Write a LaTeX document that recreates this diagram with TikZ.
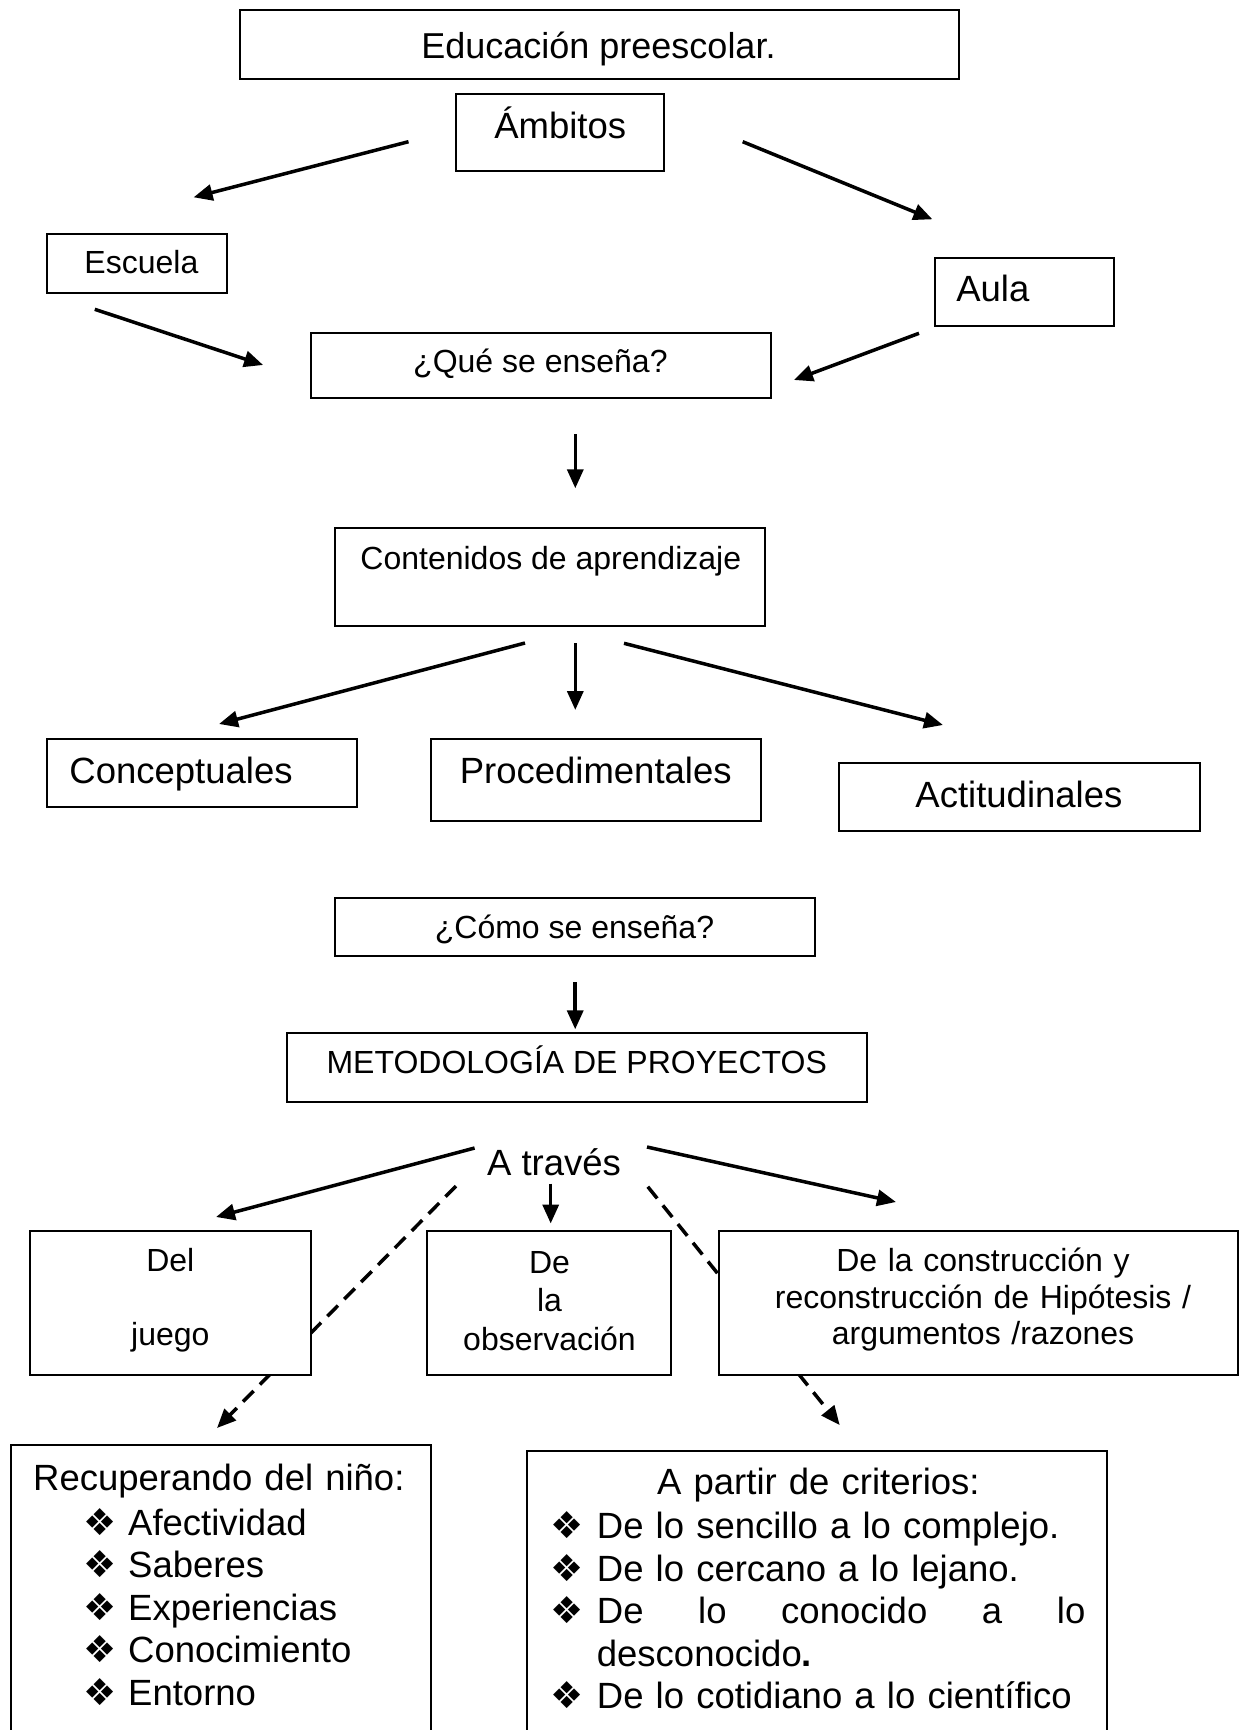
\documentclass[tikz,border=0pt]{standalone}
\usepackage{fontspec}
\setmainfont{Liberation Sans}
\newfontfamily\dejavu{DejaVu Sans}
\usetikzlibrary{arrows.meta,backgrounds}

\newcommand{\rombo}[1][46pt]{\makebox[#1][l]{\dejavu\fontsize{37}{37}\selectfont ❖}}

\tikzset{
  box/.style={draw, line width=2pt, fill=white, inner sep=0pt},
  t32/.style={font=\fontsize{32}{37}\selectfont, inner sep=0pt, anchor=base},
  t37/.style={font=\fontsize{36.5}{42.5}\selectfont, inner sep=0pt, anchor=base},
  arr/.style={line width=3.5pt, -{Triangle[length=19pt,width=16pt]}},
  darr/.style={arr, dash pattern=on 15pt off 9pt}
}

\begin{document}
\begin{tikzpicture}[x=1pt,y=-1pt]
\useasboundingbox (0,0) rectangle (1239,1730);

% cajas
\node[box, minimum width=719, minimum height=69] (educ) at (599,44.5) {};
\node[box, minimum width=208.5, minimum height=77.6] (ambitos) at (560.2,132.5) {};
\node[box, minimum width=179.4, minimum height=59] (escuela) at (137.1,263.2) {};
\node[box, minimum width=179.3, minimum height=68.3] (aula) at (1024.4,291.8) {};
\node[box, minimum width=460, minimum height=65] (que) at (540.5,365.8) {};
\node[box, minimum width=430.3, minimum height=98.3] (cont) at (550.2,576.9) {};
\node[box, minimum width=309.6, minimum height=68.3] (concep) at (202.2,773.2) {};
\node[box, minimum width=330.4, minimum height=81.7] (proced) at (595.8,779.9) {};
\node[box, minimum width=360.5, minimum height=68.3] (actit) at (1019.3,796.9) {};
\node[box, minimum width=480.4, minimum height=57.7] (como) at (575.2,927.2) {};
\node[box, minimum width=580, minimum height=69] (metod) at (576.8,1067.8) {};
\node[box, minimum width=280.5, minimum height=144] (del) at (170.3,1303.4) {};
\node[box, minimum width=244.2, minimum height=144] (obs) at (548.9,1303.4) {};
\node[box, minimum width=519.2, minimum height=144] (constr) at (978.4,1303.4) {};
\node[box, minimum width=420.4, minimum height=315] (recup) at (221.2,1602.5) {};
\node[box, minimum width=580, minimum height=309.4] (partir) at (817,1605.3) {};

% textos
\node[t37, font=\fontsize{36}{40}\selectfont] (educ-t) at (598.5,58.3) {Educación preescolar.};
\node[t37] (ambitos-t) at (560.2,138.3) {Ámbitos};
\node[t32] (escuela-t) at (141.4,273.3) {Escuela};
\node[t37] (aula-t) at (992.8,301.7) {Aula};
\node[t32] (que-t) at (540.4,372.7) {¿Qué se enseña?};
\node[t32] (cont-t) at (550.8,569) {Contenidos de aprendizaje};
\node[t37] (concep-t) at (181,783.3) {Conceptuales};
\node[t37] (proced-t) at (595.7,783.3) {Procedimentales};
\node[t37] (actit-t) at (1018.9,807.3) {Actitudinales};
\node[t32] (como-t) at (574.5,938.7) {¿Cómo se enseña?};
\node[t32] (metod-t) at (576.7,1073.3) {METODOLOGÍA DE PROYECTOS};
\node[t37] (traves) at (554,1175) {A través};
\node[t32, text width=280, align=center] (del-t) at (170.3,1271.6) {Del\\[37pt]juego};
\node[t32, text width=244, align=center, font=\fontsize{32}{38.3}\selectfont] (obs-t) at (549.5,1273.5) {De\\la\\observación};
\node[t32, text width=500, align=center, font=\fontsize{32}{36.4}\selectfont] (constr-t) at (983,1271.6) {De la construcción y\\reconstrucción de Hipótesis /\\argumentos /razones};
\node[t37, text width=400, align=left, anchor=base west] (recup-t) at (33,1490.5) {Recuperando del niño:\\[2pt]
  \hspace*{50pt}\rombo[45pt]Afectividad\\
  \hspace*{50pt}\rombo[45pt]Saberes\\
  \hspace*{50pt}\rombo[45pt]Experiencias\\
  \hspace*{50pt}\rombo[45pt]Conocimiento\\
  \hspace*{50pt}\rombo[45pt]Entorno};
\node[t37, text width=535, align=left, anchor=base west] (partir-t) at (550.7,1494) {\makebox[\linewidth]{A partir de criterios:}\\[2.3pt]
  \rombo De lo sencillo a lo complejo.\\
  \rombo De lo cercano a lo lejano.\\
  \rombo\makebox[488.5pt][l]{De\hfill lo\hfill conocido\hfill a\hfill lo}\\
  \hspace*{46pt}desconocido{\bfseries .}\\
  \rombo De lo cotidiano a lo científico};

% extremos de las flechas
\coordinate (amb-l) at (408.5,141.7);
\coordinate (esc-in) at (193.6,197.3);
\coordinate (amb-r) at (742.7,141.7);
\coordinate (aula-in) at (932.4,219.3);
\coordinate (esc-out) at (94.8,309.3);
\coordinate (que-l) at (263.1,365);
\coordinate (aula-out) at (919,333.3);
\coordinate (que-r) at (794,380);
\coordinate (que-d) at (575.3,434);
\coordinate (cont-u) at (575.3,488.3);
\coordinate (cont-l) at (525,643);
\coordinate (concep-in) at (219,724);
\coordinate (cont-d) at (575.3,643.3);
\coordinate (proced-u) at (575.3,710);
\coordinate (cont-r) at (624,643.3);
\coordinate (actit-in) at (943,725);
\coordinate (como-d) at (575.2,982.3);
\coordinate (metod-u) at (575.2,1029.3);
\coordinate (trav-l) at (474.6,1148);
\coordinate (del-in) at (216,1217);
\coordinate (trav-d) at (550.7,1183.6);
\coordinate (obs-u) at (550.7,1223.5);
\coordinate (trav-r) at (647,1147);
\coordinate (constr-in) at (896,1202);
\coordinate (dash-l) at (456,1186);
\coordinate (recup-in) at (217,1428);
\coordinate (dash-r) at (647.8,1186.7);
\coordinate (partir-in) at (839.7,1425);

\draw[arr] (amb-l) -- (esc-in);
\draw[arr] (amb-r) -- (aula-in);
\draw[arr] (esc-out) -- (que-l);
\draw[arr] (aula-out) -- (que-r);
\draw[arr] (que-d) -- (cont-u);
\draw[arr] (cont-l) -- (concep-in);
\draw[arr] (cont-d) -- (proced-u);
\draw[arr] (cont-r) -- (actit-in);
\draw[arr] (como-d) -- (metod-u);
\draw[arr] (trav-l) -- (del-in);
\draw[arr] (trav-d) -- (obs-u);
\draw[arr] (trav-r) -- (constr-in);
\begin{scope}[on background layer]
\draw[darr] (dash-l) -- (recup-in);
\draw[darr] (dash-r) -- (partir-in);
\end{scope}
\end{tikzpicture}
\end{document}
